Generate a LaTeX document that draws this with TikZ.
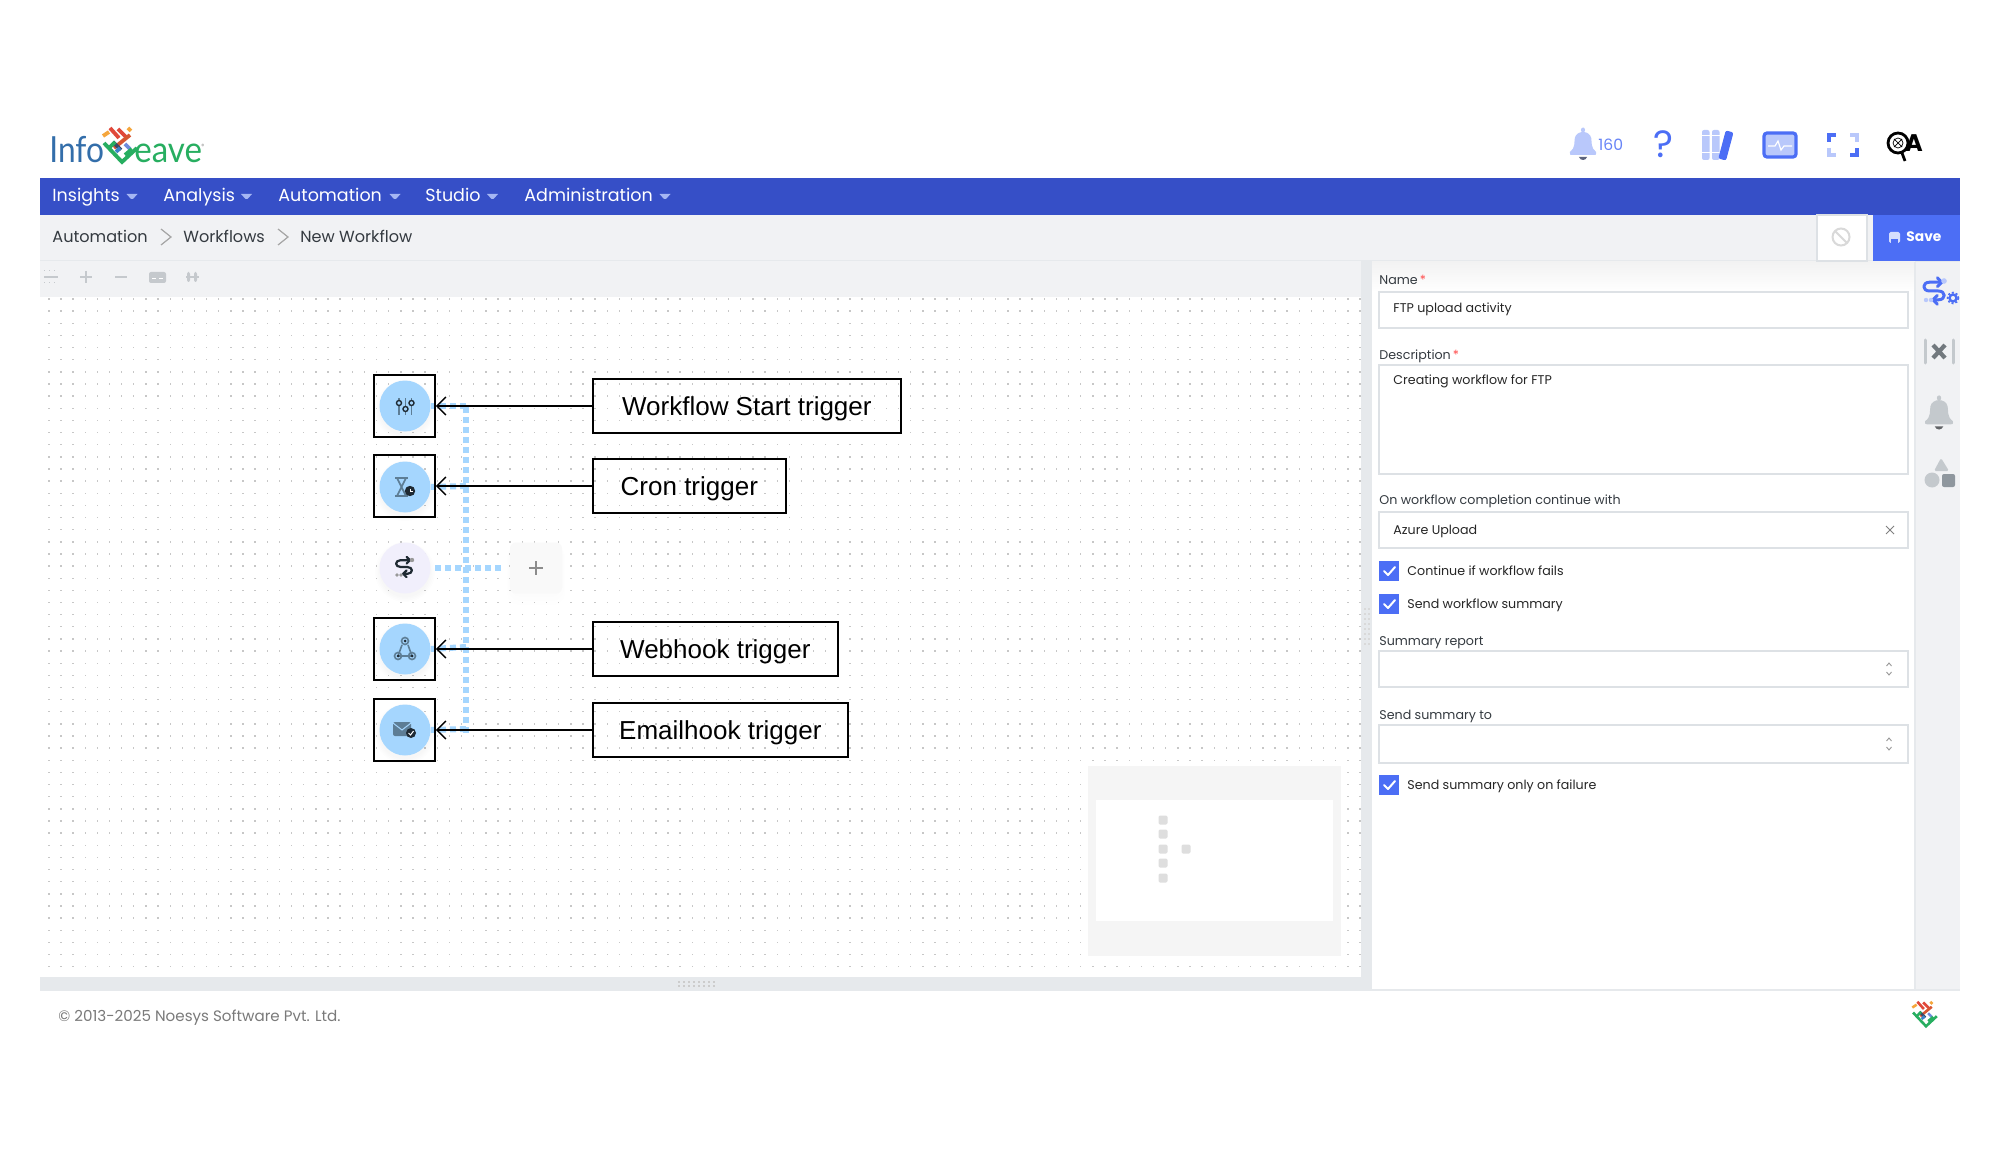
\documentclass[tikz,border=0pt]{standalone}
\usepackage{fontspec}
\setmainfont{Poppins}
\newfontfamily\arialf{Liberation Sans}
\newfontfamily\latof{Lato}
\usetikzlibrary{arrows.meta}
\definecolor{barblue}{HTML}{364FC7}
\definecolor{btnblue}{HTML}{4C6EF5}
\definecolor{softblue}{HTML}{B9C8FB}
\definecolor{pagegrey}{HTML}{F1F2F4}
\definecolor{edgegrey}{HTML}{E6E9EC}
\definecolor{fieldline}{HTML}{DDE1E5}
\definecolor{iconblue}{HTML}{A5D6FE}
\definecolor{startfill}{HTML}{F1EFFC}
\definecolor{slate}{HTML}{5D7D95}
\definecolor{inkdark}{HTML}{1F2A33}
\definecolor{textdark}{HTML}{343A40}
\definecolor{toolgrey}{HTML}{C5C9CD}
\definecolor{sidegrey}{HTML}{C4C9CD}
\definecolor{sidedark}{HTML}{8F979E}
\definecolor{lgorange}{HTML}{F5A63C}
\definecolor{lgred}{HTML}{E0483A}
\definecolor{lgrust}{HTML}{D65632}
\definecolor{lgnavy}{HTML}{3C4864}
\definecolor{lgblue}{HTML}{3C82C8}
\definecolor{lgsky}{HTML}{6E8CDC}
\definecolor{lggreen}{HTML}{27AE60}
\tikzset{
  x=0.5pt,y=-0.5pt,
  uitext/.style={anchor=base west,inner sep=0pt,text=#1},
  uitext/.default=textdark,
  menutext/.style={uitext=white,font=\fontsize{8.75}{10}\selectfont,yshift=-3.5pt},
  crumb/.style={uitext=textdark,font=\fontsize{8.05}{10}\selectfont,yshift=-2.8pt},
  fieldlabel/.style={uitext=textdark,font=\fontsize{6.33}{8}\selectfont,yshift=-2.7pt},
  fieldvalue/.style={uitext=black!85,font=\fontsize{6.33}{8}\selectfont,yshift=-2.5pt},
  checklabel/.style={uitext=black!85,font=\fontsize{6.33}{8}\selectfont,yshift=-2.7pt},
  fieldbox/.style={draw=fieldline,line width=0.7pt,fill=white},
  trigbox/.style={draw=black,line width=0.85pt,minimum width=30.5pt,minimum height=31pt,inner sep=0pt},
  triglabel/.style={draw=black,line width=0.85pt,anchor=west,inner sep=0pt,minimum height=27pt,
     text height=9.1pt,text depth=0pt,font=\arialf\fontsize{13}{15}\selectfont,text=black},
  trigicon/.style={circle,fill=iconblue,minimum size=25.5pt,inner sep=0pt},
  startnode/.style={circle,fill=startfill,minimum size=25.5pt,inner sep=0pt},
  addnode/.style={rectangle,rounded corners=3pt,fill=black!2.5!white,minimum width=26pt,minimum height=25.5pt,inner sep=0pt},
  flowdots/.style={draw=iconblue,line width=3pt,dash pattern=on 3pt off 2pt},
  callout/.style={draw=black,line width=0.75pt,-{Straight Barb[length=4.5pt,width=9pt,line width=0.75pt]}},
  wfshape/.pic={
    \draw[line width=#1,line cap=round,line join=round]
      (7,-8)--(-4,-8) .. controls (-11,-8) and (-11,0) .. (-4,0) -- (4,0) .. controls (11,0) and (11,8) .. (4,8) -- (-1,8);
    \draw[line width=#1,line cap=round,line join=round] (3,-12)--(7,-8)--(3,-4);
    \draw[line width=#1,line cap=round,line join=round] (3,4)--(-1,8)--(3,12);
  },
  logomark/.pic={
    \begin{scope}[line width=#1]
      \draw[color=lgorange] (-19,-9)--(-13,-13);
      \draw[color=lgorange] (6,-17)--(9,-14);
      \draw[color=lgred] (-12,-17)--(-3,-7);
      \draw[color=lgred] (-4,-16)--(5,-7);
      \draw[color=lgrust] (8,-10)--(-8,3);
      \draw[color=lgnavy] (-9,-3)--(-1,5);
      \draw[color=lgblue] (-6,7)--(-2,3);
      \draw[color=lgsky] (3,-1)--(8,4);
      \draw[color=lggreen] (-18,-2)--(0,17)--(15,3);
      \draw[color=lggreen] (-13,3)--(-7,-3);
      \draw[color=lggreen] (3,10)--(10,4);
    \end{scope}
  }
}
\newcommand{\softshadow}[3]{%
  \foreach \sz in {1,...,4}{\fill[black,opacity=0.008] (#1,#2+4) circle ({#3+6-1.5*\sz});}%
}
\newcommand{\caret}[2]{\fill[#2] (#1-5.5,196-2)--(#1+5.5,196-2)--(#1+1,196+3)--(#1-1,196+3)--cycle;}
\newcommand{\chevron}[2]{\draw[color=gray!70,line width=0.6pt] (#1-3,#2-8)--(#1+7,#2)--(#1-3,#2+8);}
\newcommand{\checkbox}[3]{%
  \node[rectangle,fill=btnblue,minimum size=10pt,inner sep=0pt] (#1) at (1389,#2) {};
  \draw[white,line width=1pt,line cap=round,line join=round] (1384,#2) -- (1388,#2+4) -- (1395,#2-4);
  \node[checklabel] (#1t) at (1407,#2-1) {#3};
}
\newcommand{\updown}[1]{%
  \draw[color=gray!80,line width=0.45pt] (1886.5,#1-3)--(1889,#1-6)--(1891.5,#1-3);
  \draw[color=gray!80,line width=0.45pt] (1886.5,#1+3)--(1889,#1+6)--(1891.5,#1+3);
}
\newcommand{\bell}[4]{% cx, top, scale, colour
  \begin{scope}[shift={(#1,#2)},xscale=0.82*#3,yscale=#3]
    \fill[#4] (0,0) circle (2.5);
    \fill[#4] (-16,22) .. controls (-9,18) and (-11,12) .. (-10,8) .. controls (-8,0) and (8,0) .. (10,8)
       .. controls (11,12) and (9,18) .. (16,22) .. controls (17,25) and (15,25) .. (14,25) -- (-14,25) .. controls (-15,25) and (-17,25) .. (-16,22) -- cycle;
    \fill[#4!50!black] (-5,27) .. controls (-3,31) and (3,31) .. (5,27) -- cycle;
  \end{scope}
}
\begin{document}
\begin{tikzpicture}
\useasboundingbox (0,0) rectangle (2000,1160);
\fill[white] (0,0) rectangle (2000,1160);

% page bands
\fill[barblue] (40,178) rectangle (1960,215);
\fill[pagegrey] (40,215) rectangle (1960,261);
\draw[color=edgegrey,line width=0.7pt] (40,261)--(1960,261);
\fill[pagegrey] (40,261) rectangle (1361,297);
\fill[white] (40,297) rectangle (1361,977);
\fill[edgegrey] (40,977) rectangle (1372,990);
\fill[edgegrey] (1361,261) rectangle (1372,990);
\fill[white] (1372,262) rectangle (1915,990);
\shade[top color=black!5,bottom color=white] (1372,262) rectangle (1915,292);
\fill[pagegrey] (1915,262) rectangle (1960,990);
\draw[color=edgegrey,line width=0.7pt] (1915,262)--(1915,990);
\draw[color=edgegrey,line width=0.7pt] (40,990)--(1960,990);

% canvas dots
\foreach \i in {0,...,108}{\foreach \j in {0,...,55}{%
  \fill[black!22] ({48.8+12.14*\i-0.7},{299+12.14*\j-0.7}) rectangle ++(1.4,1.4);}}

% logo
\node[inner sep=0pt,anchor=base west,xscale=0.88,transform shape,text=lgblue!85!black,font=\latof\fontsize{18}{20}\selectfont] (logoinfo) at (49,163) {Info};
\node[inner sep=0pt,anchor=base west,xscale=0.92,transform shape,text=lggreen,font=\latof\fontsize{18}{20}\selectfont] (logoeave) at (134,163) {eave};
\node[inner sep=0pt,text=gray,font=\fontsize{3}{4}\selectfont] (logoreg) at (203,146) {®};
\pic at (122,145) {logomark=1.9pt};

% header icons
\bell{1583}{130}{1}{softblue}
\node[uitext=btnblue!85,font=\fontsize{7.8}{10}\selectfont,yshift=-2.7pt] (count) at (1598,145) {160};
\node[inner sep=0pt,text=btnblue,font=\fontsize{19}{21}\selectfont] (help) at (1663,144) {?};
\fill[softblue,rounded corners=1pt] (1702,130) rectangle (1709.5,160);
\fill[softblue,rounded corners=1pt] (1712,130) rectangle (1719.5,160);
\draw[white,line width=0.5pt] (1702,136)--(1719.5,136) (1702,153)--(1719.5,153);
\fill[btnblue,rotate around={-15:(1726,145)},rounded corners=1pt] (1722,131) rectangle (1730,160);
\draw[color=btnblue,line width=1.6pt,fill=softblue,rounded corners=1.5pt] (1764,133) rectangle (1796,157);
\draw[white,line width=0.6pt] (1768,146)--(1775,146)--(1778,141)--(1781,150)--(1784,146)--(1792,146);
\draw[btnblue,line width=1.6pt] (1829,142)--(1829,135)--(1836,135);
\draw[softblue,line width=1.6pt] (1850,135)--(1857,135)--(1857,142);
\draw[softblue,line width=1.6pt] (1829,148)--(1829,155)--(1836,155);
\draw[btnblue,line width=1.6pt] (1850,155)--(1857,155)--(1857,148);
\draw[black,line width=1.4pt] (1898,143) circle (10);
\draw[black,line width=1.4pt] (1902,153)--(1905,161);
\draw[black,line width=0.35pt] (1898,143) circle (5) (1894,139)--(1902,147) (1902,139)--(1894,147);
\node[inner sep=0pt,text=black,font=\bfseries\fontsize{12}{14}\selectfont] (qa) at (1914,143) {A};

% menu
\node[menutext] (m1) at (52,195) {Insights};
\node[menutext] (m2) at (163,195) {Analysis};
\node[menutext] (m3) at (278,195) {Automation};
\node[menutext] (m4) at (425,195) {Studio};
\node[menutext] (m5) at (524,195) {Administration};
\caret{132}{softblue!85!barblue}
\caret{246.5}{softblue!85!barblue}
\caret{395}{softblue!85!barblue}
\caret{492.5}{softblue!85!barblue}
\caret{665}{softblue!85!barblue}

% breadcrumbs
\node[crumb] (c1) at (52,237) {Automation};
\chevron{164}{237}
\node[crumb] (c2) at (183,237) {Workflows};
\chevron{281}{237}
\node[crumb] (c3) at (300,237) {New Workflow};

% toolbar
\draw[toolgrey,line width=0.9pt] (44,277)--(58,277);
\draw[toolgrey,line width=0.5pt,dotted] (44,271)--(58,271) (44,283)--(58,283);
\draw[toolgrey,line width=0.9pt] (80,277)--(92,277) (86,271)--(86,283);
\draw[toolgrey,line width=0.9pt] (115,277)--(127,277);
\fill[toolgrey,rounded corners=1pt] (149,272) rectangle (166,283);
\draw[white,line width=0.5pt] (152,279)--(156,279) (159,279)--(163,279);
\draw[toolgrey,line width=0.9pt] (186,277)--(199,277);
\fill[toolgrey,rounded corners=1pt] (187,272) rectangle (190,282);
\fill[toolgrey,rounded corners=1pt] (194,272) rectangle (197,282);

% save bar
\draw[color=fieldline,line width=0.6pt,fill=white] (1817,215) rectangle (1867,261);
\draw[color=black!15,line width=1pt] (1841,237) circle (8.5);
\draw[color=black!15,line width=1pt] (1835,231)--(1847,243);
\fill[btnblue] (1873,215) rectangle (1960,261);
\fill[softblue!60!white,rounded corners=0.8pt] (1889,232) rectangle (1900,243);
\fill[btnblue] (1891,239) rectangle (1898,243);
\node[uitext=white,font=\bfseries\fontsize{6.9}{9}\selectfont,yshift=-2.9pt] (save) at (1906,236) {Save};

% minimap
\fill[black!4] (1088,766) rectangle (1341,956);
\fill[white] (1096,800) rectangle (1333,921);
\foreach \yy in {820,834,849,863,878}{\fill[black!13,rounded corners=0.7pt] (1158.5,\yy-4.5) rectangle ++(9,9);}
\fill[black!13,rounded corners=0.7pt] (1181.5,844.5) rectangle ++(9,9);

% flow
\softshadow{405}{406}{25.5}
\softshadow{405}{487}{25.5}
\softshadow{405}{568}{25.5}
\softshadow{405}{649}{25.5}
\softshadow{405}{730}{25.5}
\foreach \sz in {1,...,3}{\fill[black,opacity=0.005,rounded corners=6pt] (510-\sz,545) rectangle (562+\sz,593+4*\sz);}

\node[trigicon] (i1) at (405,406) {};
\node[trigicon] (i2) at (405,487) {};
\node[startnode] (i3) at (405,568) {};
\node[trigicon] (i4) at (405,649) {};
\node[trigicon] (i5) at (405,730) {};
\node[addnode] (add) at (536,568) {};
\coordinate (spinetop) at (466,404);
\coordinate (spinebot) at (466,733);
\coordinate (j1) at (466,406);
\coordinate (j2) at (466,486);
\coordinate (j4) at (466,647);
\coordinate (j5) at (466,729);
\coordinate (d3a) at (435,568);
\coordinate (d3b) at (502,568);
\draw[flowdots] (spinebot)--(spinetop);
\draw[flowdots] (j1)--(i1.east);
\draw[flowdots] (j2)--(i2.east);
\draw[flowdots] (j4)--(i4.east);
\draw[flowdots] (j5)--(i5.east);
\draw[flowdots] (d3a)--(d3b);

\node[trigbox] (b1) at (404.5,406) {};
\node[trigbox] (b2) at (404.5,486) {};
\node[trigbox] (b4) at (404.5,649) {};
\node[trigbox] (b5) at (404.5,730) {};
\node[triglabel,minimum width=154pt] (l1) at (592,406) {Workflow Start trigger};
\node[triglabel,minimum width=96.5pt] (l2) at (592,486) {Cron trigger};
\node[triglabel,minimum width=122.5pt] (l4) at (592,649) {Webhook trigger};
\node[triglabel,minimum width=127.5pt] (l5) at (592,730) {Emailhook trigger};
\draw[callout] (l1.west)--(b1.east);
\draw[callout] (l2.west)--(b2.east);
\draw[callout] (l4.west)--(b4.east);
\draw[callout] (l5.west)--(b5.east);

% icon glyphs
\draw[color=slate,line width=0.8pt] (399,398)--(399,415) (405.5,398)--(405.5,415) (411.5,398)--(411.5,415);
\draw[color=inkdark,line width=0.7pt,fill=iconblue] (399,403) circle (2.5) (405.5,409) circle (2.5) (411.5,403) circle (2.5);
\draw[color=slate,line width=0.9pt] (395,478)--(408,478) (395,496)--(408,496);
\draw[color=slate,line width=0.8pt] (397,478)--(406,496) (406,478)--(397,496);
\fill[inkdark] (410,491) circle (5.2);
\draw[white,line width=0.4pt] (410,488.5)--(410,491)--(412.5,491);
\pic[color=inkdark,scale=0.85] at (404,567) {wfshape=1.1pt};
\fill[black!40] (412,560) circle (2.2);
\fill[black!40] (397,575) circle (1.8) (401,575) circle (1.8);
\draw[color=slate,line width=0.8pt] (405,641) circle (3.5) (398,656) circle (3.5) (412,656) circle (3.5);
\draw[color=slate,line width=0.8pt] (402,645)--(398,656)--(412,656)--(408,645);
\fill[inkdark] (405,641) circle (1.5) (398,656) circle (1.5) (412,656) circle (1.5);
\fill[slate,rounded corners=1pt] (393,722) rectangle (411,736);
\draw[color=iconblue,line width=0.5pt] (393,723)--(402,730)--(411,723);
\fill[inkdark] (411,733) circle (5);
\draw[white,line width=0.5pt] (408.5,733)--(410.5,735)--(413.5,731);
\draw[color=black!45,line width=0.7pt] (529,568)--(543,568) (536,561)--(536,575);

% form
\node[fieldlabel] (fn) at (1379,279) {Name\,\textcolor{red!70!white}{*}};
\draw[fieldbox] (1379,292) rectangle (1908,328);
\node[fieldvalue] (vn) at (1393,308) {FTP upload activity};
\node[fieldlabel] (fd) at (1379,354) {Description\,\textcolor{red!70!white}{*}};
\draw[fieldbox] (1379,365) rectangle (1908,474);
\node[fieldvalue] (vd) at (1393,380) {Creating workflow for FTP};
\node[fieldlabel] (fc) at (1379,499) {On workflow completion continue with};
\draw[fieldbox] (1379,512) rectangle (1908,548);
\node[fieldvalue] (vc) at (1393,529) {Azure Upload};
\draw[color=gray,line width=0.4pt] (1886,526)--(1894,534) (1894,526)--(1886,534);
\checkbox{k1}{571}{Continue if workflow fails}
\checkbox{k2}{604}{Send workflow summary}
\node[fieldlabel] (fs) at (1379,640) {Summary report};
\draw[fieldbox] (1379,651) rectangle (1908,687);
\updown{669}
\node[fieldlabel] (ft) at (1379,714) {Send summary to};
\draw[fieldbox] (1379,725) rectangle (1908,763);
\updown{744}
\checkbox{k3}{785}{Send summary only on failure}

% grips
\foreach \yy in {608,613,...,644}{\fill[black!15] (1364,\yy) rectangle ++(1.6,2.4);\fill[black!15] (1368,\yy) rectangle ++(1.6,2.4);}
\foreach \xx in {678,683,...,716}{\fill[black!20] (\xx,981) rectangle ++(2.4,1.6);\fill[black!20] (\xx,985) rectangle ++(2.4,1.6);}

% sidebar
\pic[color=btnblue,scale=1.1] at (1934,291) {wfshape=1.5pt};
\fill[softblue] (1944,281) circle (2.8);
\fill[softblue] (1926,300) circle (2.2) (1931,300) circle (2.2);
\draw[btnblue,line width=1.2pt] (1953,298) circle (3.5);
\draw[btnblue,line width=0.8pt,dash pattern=on 1pt off 1pt] (1953,298) circle (5.5);
\draw[color=sidegrey,line width=1.5pt,line cap=round] (1925,340)--(1925,363) (1953,340)--(1953,363);
\draw[color=sidedark!80!black,line width=2.1pt] (1933,345)--(1945,358) (1945,345)--(1933,358);
\bell{1939}{398}{1.05}{sidegrey}
\fill[sidegrey,rounded corners=0.8pt] (1941,458)--(1949,471)--(1934,471)--cycle;
\fill[sidegrey] (1932,480) circle (7.5);
\fill[sidedark,rounded corners=1pt] (1942,474) rectangle (1955,487);

% footer
\node[uitext=black!52,font=\fontsize{7.56}{9}\selectfont,yshift=-3.2pt] (copy) at (58,1015) {© 2013-2025 Noesys Software Pvt. Ltd.};
\pic[scale=0.72] at (1926,1014) {logomark=1.3pt};
\end{tikzpicture}
\end{document}
